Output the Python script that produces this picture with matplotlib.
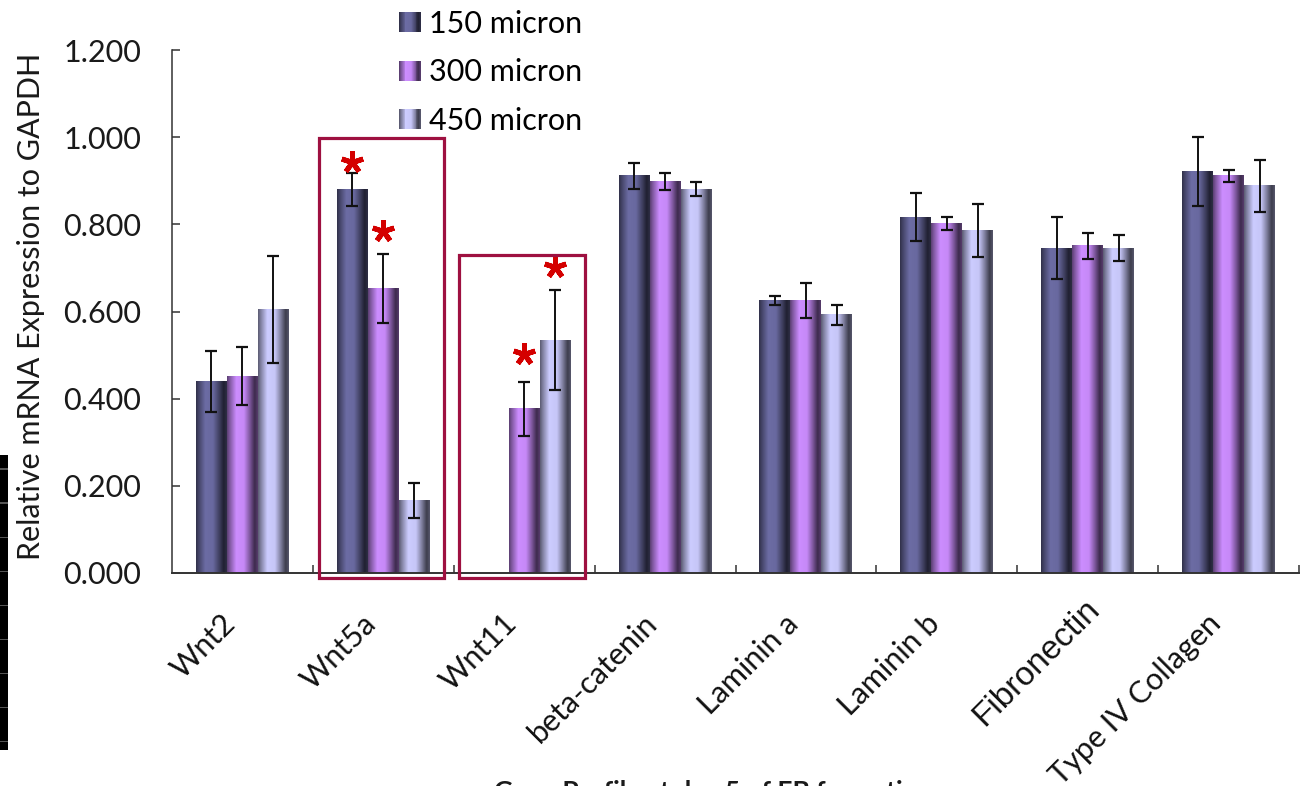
import numpy as np
import matplotlib
matplotlib.use("Agg")
import matplotlib.pyplot as plt
import matplotlib.transforms as mtransforms
from matplotlib.patches import Rectangle, Patch
from matplotlib.legend_handler import HandlerBase
from matplotlib.colors import to_rgb

# ---------------- data ----------------
categories = ['Wnt2', 'Wnt5a', 'Wnt11', 'beta-catenin', 'Laminin a',
              'Laminin b', 'Fibronectin', 'Type IV Collagen']
series = ['150 micron', '300 micron', '450 micron']
vals_150 = [0.439, 0.880, np.nan, 0.911, 0.625, 0.816, 0.745, 0.921]
vals_300 = [0.452, 0.653, 0.377, 0.898, 0.625, 0.802, 0.751, 0.911]
vals_450 = [0.605, 0.166, 0.534, 0.881, 0.592, 0.786, 0.745, 0.888]
err_150 = [0.070, 0.038, np.nan, 0.030, 0.011, 0.055, 0.071, 0.079]
err_300 = [0.067, 0.080, 0.062, 0.020, 0.040, 0.014, 0.030, 0.013]
err_450 = [0.123, 0.040, 0.115, 0.017, 0.023, 0.060, 0.030, 0.060]
yticks = [0.0, 0.2, 0.4, 0.6, 0.8, 1.0, 1.2]
ytick_labels = ['0.000', '0.200', '0.400', '0.600', '0.800', '1.000', '1.200']
ylabel = 'Relative mRNA Expression to GAPDH'
xtitle = 'Gene Profile at day 5 of EB formation'
boxed_groups = [1, 2]                       # Wnt5a, Wnt11
significant = [(0, 1), (1, 1), (1, 2), (2, 2)]  # (series, category)

values = [vals_150, vals_300, vals_450]
errors = [err_150, err_300, err_450]
colors = ['#6C6CA4', '#CC8DFF', '#CCCCFF']

plt.rcParams['font.family'] = ['Lato', 'DejaVu Sans']

W, H = 1307, 786
fig = plt.figure(figsize=(W / 100, H / 100), dpi=100)
ax = fig.add_axes([172 / W, 1 - 573 / H, (1299 - 172) / W, (573 - 50) / H])


def shade(color, n):
    t = np.linspace(0, 1, n)
    f = np.interp(t, [0, 0.08, 0.3, 0.55, 0.75, 0.9, 1.0],
                  [0.45, 0.62, 1.0, 0.97, 0.6, 0.3, 0.42])
    return np.clip(np.array(to_rgb(color))[None, :] * f[:, None], 0, 1)


bw = 0.22
x = np.arange(len(categories)) + 0.5
for s in range(3):
    xs = x + (s - 1) * bw
    v = np.array(values[s], dtype=float)
    e = np.array(errors[s], dtype=float)
    ok = ~np.isnan(v)
    bars = ax.bar(xs[ok], v[ok], width=bw, facecolor='none', edgecolor='none', zorder=2)
    grad = shade(colors[s], 64)[None, :, :]
    for r in bars:
        x0, w, h = r.get_x(), r.get_width(), r.get_height()
        ax.imshow(grad, extent=(x0, x0 + w, 0, h), aspect='auto',
                  interpolation='bilinear', zorder=2)
    ax.errorbar(xs[ok], v[ok], yerr=e[ok], fmt='none', ecolor='#111111',
                elinewidth=1.4, capsize=4.5, capthick=1.6, zorder=3)

# significance asterisks
ast_offsets = {(0, 1): 11, (1, 1): 23, (1, 2): 28, (2, 2): 23}
for (s, c) in significant:
    xv = x[c] + (s - 1) * bw
    yv = values[s][c] + errors[s][c]
    tr = ax.transData + mtransforms.ScaledTranslation(0, ast_offsets[(s, c)] / 100,
                                                      fig.dpi_scale_trans)
    ax.plot([xv], [yv], marker=(5, 2, 0), ms=16, mew=3.6, color='#D40000',
            transform=tr, zorder=5, clip_on=False)

# highlight boxes
for c in boxed_groups:
    top = max(np.nan_to_num(values[s][c]) + np.nan_to_num(errors[s][c]) for s in range(3)) + 0.08
    ax.add_patch(Rectangle((c + 0.04, -0.011), 0.89, top + 0.011, fill=False,
                           edgecolor='#9E1040', linewidth=2.3, zorder=6, clip_on=False))

ax.set_xlim(0, len(categories))
ax.set_ylim(0, 1.2)
ax.set_yticks(yticks)
ax.set_yticklabels(ytick_labels, fontsize=22, color='#1a1a1a')
ax.set_xticks(np.arange(1, len(categories) + 1))
ax.set_xticklabels([])
ax.tick_params(axis='y', direction='in', length=6, width=1.1, pad=22, colors='#333333',
               labelcolor='#1a1a1a')
ax.tick_params(axis='x', direction='in', length=6, width=1.1, colors='#333333')
for sp in ['top', 'right']:
    ax.spines[sp].set_visible(False)
ax.spines['left'].set_color('#333333')
ax.spines['left'].set_linewidth(1.1)
ax.spines['bottom'].set_color('#333333')
ax.spines['bottom'].set_linewidth(1.4)

# category labels
for i, lab in enumerate(categories):
    if lab == 'Fibronectin':
        fam, fs, dx, dy = ['Liberation Sans', 'DejaVu Sans'], 24, 7, -31
    else:
        fam, fs, dx, dy = ['Lato', 'DejaVu Sans'], 22, -12, -46
    tr = ax.get_xaxis_transform() + mtransforms.ScaledTranslation(dx / 100, dy / 100,
                                                                   fig.dpi_scale_trans)
    ax.text(x[i], 0, lab, transform=tr, rotation=45, rotation_mode='anchor',
            ha='right', va='center', fontsize=fs, family=fam, color='#111111')

fig.text(31 / W, 1 - 306 / H, ylabel, rotation=90, ha='center', va='center',
         fontsize=22, color='#1a1a1a')
fig.text(494 / W, 1 - 780 / H, xtitle, ha='left', va='top', fontsize=19,
         fontweight='bold', color='#1a1a1a')


# legend with gradient swatches
class GradientHandler(HandlerBase):
    def __init__(self, color):
        super().__init__()
        self.color = color

    def create_artists(self, legend, orig_handle, xdescent, ydescent, width, height,
                       fontsize, trans):
        n = 24
        cols = shade(self.color, n)
        arts = []
        for k in range(n):
            arts.append(Rectangle((-xdescent + width * k / n, -ydescent), width / n * 1.05,
                                  height, facecolor=cols[k], edgecolor='none',
                                  transform=trans))
        return arts


handles = [Patch(facecolor=c) for c in colors]
hmap = {h: GradientHandler(c) for h, c in zip(handles, colors)}
fig.legend(handles, series, handler_map=hmap, loc='upper left',
           bbox_to_anchor=(399 / W, 1 - 10 / H), bbox_transform=fig.transFigure,
           frameon=False, fontsize=22, handlelength=0.72, handleheight=0.65,
           handletextpad=0.26, labelspacing=0.67, borderpad=0, borderaxespad=0)

# black strip artifact at left edge
fig.add_artist(Rectangle((0, 1 - 750 / H), 8 / W, (750 - 455) / H,
                         transform=fig.transFigure, facecolor='black', edgecolor='none'))
for yy in range(470, 750, 34):
    fig.add_artist(Rectangle((0, 1 - yy / H), 8 / W, 1.5 / H, transform=fig.transFigure,
                             facecolor='#555555', edgecolor='none'))

fig.savefig('out.png', dpi=100)
